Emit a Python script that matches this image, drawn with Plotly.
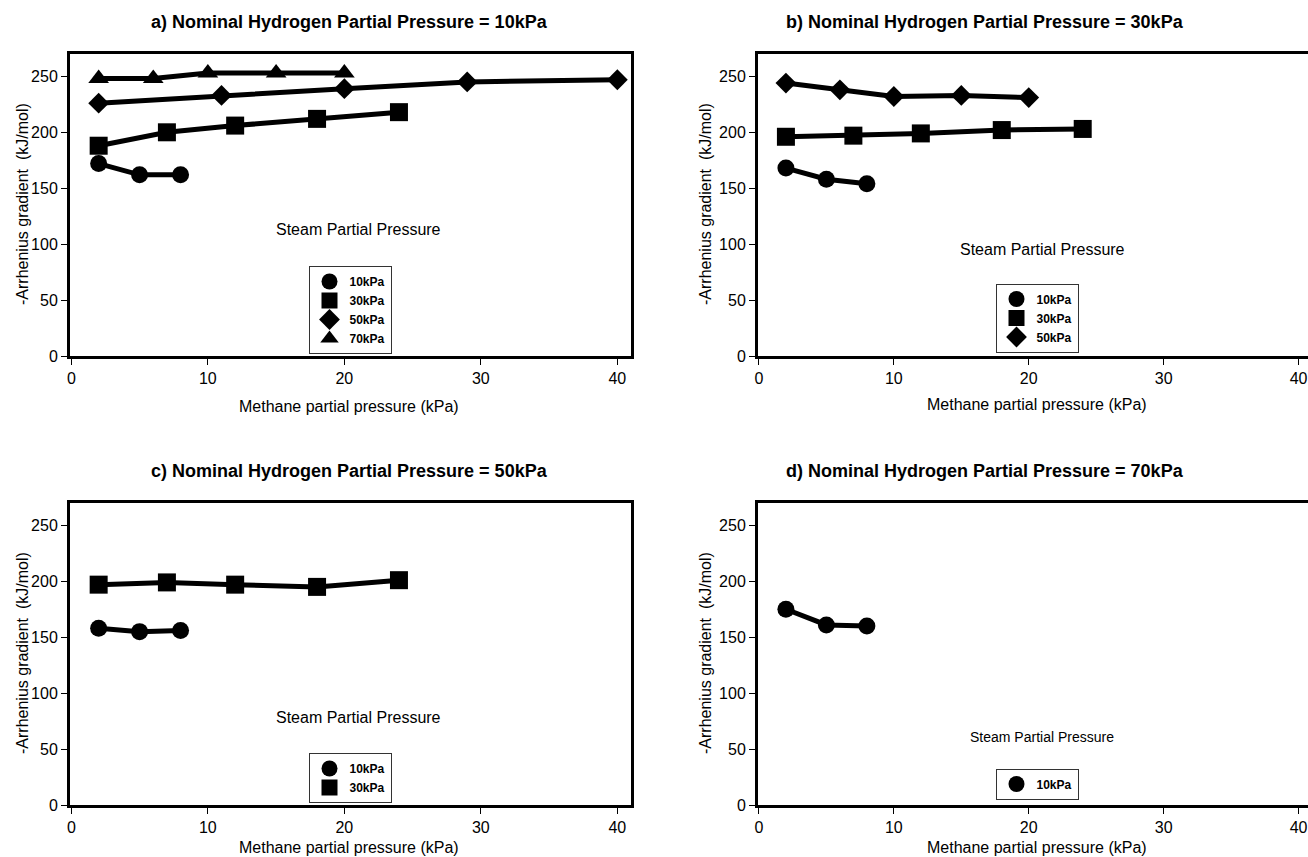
import plotly.graph_objects as go

# Methane partial pressure (kPa) vs. -Arrhenius gradient (kJ/mol),
# one series per steam partial pressure, one panel per nominal H2 pressure.

# a) nominal hydrogen partial pressure = 10 kPa
a_ch4_s10 = [2, 5, 8]
a_grad_s10 = [172, 162, 162]
a_ch4_s30 = [2, 7, 12, 18, 24]
a_grad_s30 = [188, 200, 206, 212, 218]
a_ch4_s50 = [2, 11, 20, 29, 40]
a_grad_s50 = [226, 233, 239, 245, 247]
a_ch4_s70 = [2, 6, 10, 15, 20]
a_grad_s70 = [248, 248, 253, 253, 253]

# b) nominal hydrogen partial pressure = 30 kPa
b_ch4_s10 = [2, 5, 8]
b_grad_s10 = [168, 158, 154]
b_ch4_s30 = [2, 7, 12, 18, 24]
b_grad_s30 = [196, 197, 199, 202, 203]
b_ch4_s50 = [2, 6, 10, 15, 20]
b_grad_s50 = [244, 238, 232, 233, 231]

# c) nominal hydrogen partial pressure = 50 kPa
c_ch4_s10 = [2, 5, 8]
c_grad_s10 = [158, 155, 156]
c_ch4_s30 = [2, 7, 12, 18, 24]
c_grad_s30 = [197, 199, 197, 195, 201]

# d) nominal hydrogen partial pressure = 70 kPa
d_ch4_s10 = [2, 5, 8]
d_grad_s10 = [175, 161, 160]

steam_labels = ["10kPa", "30kPa", "50kPa", "70kPa"]
panel_titles = [
    "a) Nominal Hydrogen Partial Pressure = 10kPa",
    "b) Nominal Hydrogen Partial Pressure = 30kPa",
    "c) Nominal Hydrogen Partial Pressure = 50kPa",
    "d) Nominal Hydrogen Partial Pressure = 70kPa",
]
x_ticks = [0, 10, 20, 30, 40]
y_ticks = [0, 50, 100, 150, 200, 250]

W, H = 1308, 857
FONT = "Liberation Sans, Arial, Helvetica, sans-serif"

symbols = {"10kPa": ("circle", 17), "30kPa": ("square", 18),
           "50kPa": ("diamond", 16), "70kPa": ("triangle-up", 18)}

panels = [
    dict(ax="", legend="legend",
         series=[(a_ch4_s10, a_grad_s10), (a_ch4_s30, a_grad_s30),
                 (a_ch4_s50, a_grad_s50), (a_ch4_s70, a_grad_s70)],
         xdom=(70, 631), ydom=(54, 356), xr=(-0.1, 41.0), right=True,
         title_x=349, xt=(349, 406), yt_x=22,
         steam_y=113, steam_size=16, leg=(350, 310)),
    dict(ax="2", legend="legend2",
         series=[(b_ch4_s10, b_grad_s10), (b_ch4_s30, b_grad_s30),
                 (b_ch4_s50, b_grad_s50)],
         xdom=(758, W), ydom=(54, 356), xr=(-0.07, 40.7), right=False,
         title_x=985, xt=(1037, 404), yt_x=705,
         steam_y=95, steam_size=16, leg=(1037, 318)),
    dict(ax="3", legend="legend3",
         series=[(c_ch4_s10, c_grad_s10), (c_ch4_s30, c_grad_s30)],
         xdom=(70, 631), ydom=(503, 805), xr=(-0.1, 41.0), right=True,
         title_x=349, xt=(349, 847), yt_x=22,
         steam_y=78, steam_size=16, leg=(350, 778)),
    dict(ax="4", legend="legend4",
         series=[(d_ch4_s10, d_grad_s10)],
         xdom=(758, W), ydom=(503, 805), xr=(-0.07, 40.7), right=False,
         title_x=985, xt=(1037, 847), yt_x=705,
         steam_y=61, steam_size=14, leg=(1037, 784)),
]

fig = go.Figure()
annotations = []
layout = {}

for i, p in enumerate(panels):
    xa, ya = "x" + p["ax"], "y" + p["ax"]
    for label, (xs, ys) in zip(steam_labels, p["series"]):
        sym, size = symbols[label]
        fig.add_trace(go.Scatter(
            x=xs, y=ys, mode="lines+markers", xaxis=xa, yaxis=ya,
            line=dict(color="black", width=5),
            marker=dict(symbol=sym, size=size, color="black"),
            showlegend=False, hoverinfo="x+y",
        ))
        # legend key: marker only
        fig.add_trace(go.Scatter(
            x=[None], y=[None], mode="markers", xaxis=xa, yaxis=ya,
            marker=dict(symbol=sym, size=16, color="black"),
            name=label, legend=p["legend"], showlegend=True,
        ))

    x0, x1 = p["xdom"]
    y_top, y_bot = p["ydom"]
    layout["xaxis" + p["ax"]] = dict(
        domain=[x0 / W, x1 / W], range=list(p["xr"]), anchor=ya,
        tickvals=x_ticks, ticks="outside", ticklen=6, tickwidth=1,
        tickcolor="black", showline=True, linewidth=3, linecolor="black",
        mirror=True, showgrid=False, zeroline=False, automargin=False,
        ticklabeloverflow="allow",
        tickfont=dict(family=FONT, size=16, color="black"),
    )
    layout["yaxis" + p["ax"]] = dict(
        domain=[1 - y_bot / H, 1 - y_top / H], range=[0, 270], anchor=xa,
        tickvals=y_ticks, ticks="outside", ticklen=6, tickwidth=1,
        tickcolor="black", showline=True, linewidth=3, linecolor="black",
        mirror=p["right"], showgrid=False, zeroline=False, automargin=False,
        tickfont=dict(family=FONT, size=16, color="black"),
    )

    # panel title
    annotations.append(dict(
        text=panel_titles[i], xref="paper", yref="paper",
        x=p["title_x"] / W, y=1 - (y_top - 32) / H, xanchor="center", yanchor="middle",
        showarrow=False, font=dict(family=FONT, size=18, color="black", weight="bold"),
    ))
    # x-axis title
    tx, ty = p["xt"]
    annotations.append(dict(
        text="Methane partial pressure (kPa)", xref="paper", yref="paper",
        x=tx / W, y=1 - ty / H, xanchor="center", yanchor="middle",
        showarrow=False, font=dict(family=FONT, size=16, color="black"),
    ))
    # y-axis title
    annotations.append(dict(
        text="-Arrhenius gradient  (kJ/mol)", xref="paper", yref="paper",
        x=p["yt_x"] / W, y=1 - (y_top + 150) / H, textangle=-90,
        xanchor="center", yanchor="middle", showarrow=False,
        font=dict(family=FONT, size=16, color="black"),
    ))
    # legend heading inside the plot
    annotations.append(dict(
        text="Steam Partial Pressure", xref=xa, yref=ya,
        x=21, y=p["steam_y"], xanchor="center", yanchor="middle",
        showarrow=False, font=dict(family=FONT, size=p["steam_size"], color="black"),
    ))

    lx, ly = p["leg"]
    layout[p["legend"]] = dict(
        x=lx / W, y=1 - ly / H, xanchor="center", yanchor="middle",
        bgcolor="white", bordercolor="#333", borderwidth=1,
        font=dict(family=FONT, size=12, color="black", weight="bold"),
        itemsizing="trace", tracegroupgap=0, itemwidth=30,
    )

fig.update_layout(
    width=W, height=H, margin=dict(l=0, r=0, t=0, b=0),
    paper_bgcolor="white", plot_bgcolor="white",
    template="none", annotations=annotations, **layout,
)

fig.write_html("out.html")
